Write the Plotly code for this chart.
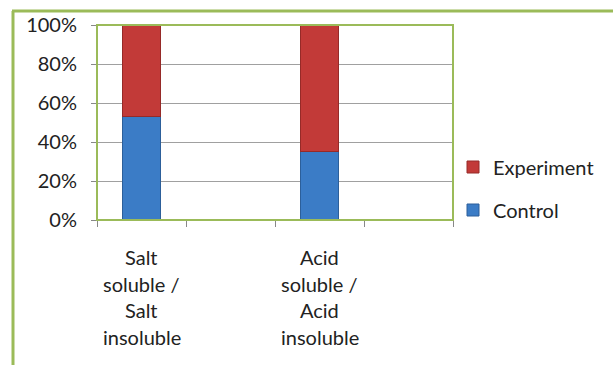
import plotly.graph_objects as go

# Category slots on the x axis (two empty slots between/after the data)
slot_positions = [0, 2]
category_lines = [
    ["Salt", "soluble /", "Salt", "insoluble"],
    ["Acid", "soluble /", "Acid", "insoluble"],
]
control = [53, 35]
experiment = [47, 65]
y_ticks = [0, 20, 40, 60, 80, 100]
y_tick_text = ["0%", "20%", "40%", "60%", "80%", "100%"]

FONT = "Lato"
FS = 20
GREEN = "#9BBB59"
W, H = 613, 365
L, R, T, B = 97, 160, 25, 145
PW, PH = W - L - R, H - T - B


def px_x(px):
    return (px - L) / PW


def px_y(py):
    return (H - B - py) / PH


fig = go.Figure()
fig.add_trace(go.Bar(
    x=slot_positions, y=control, name="Control", width=0.42,
    marker=dict(color="#3B7CC6", line=dict(color="#2C5F9A", width=1)),
    legendgroup="c", legendrank=2,
))
fig.add_trace(go.Bar(
    x=slot_positions, y=experiment, name="Experiment", width=0.42,
    marker=dict(color="#C23A38", line=dict(color="#962A28", width=1)),
    legendgroup="e", legendrank=1,
))

# multi-line category labels under each bar
annotations = []
for pos, lines in zip(slot_positions, category_lines):
    for i, line in enumerate(lines):
        annotations.append(dict(
            x=pos, xref="x", y=px_y(257 + 26.5 * i), yref="paper",
            text=line, showarrow=False, xanchor="center", yanchor="middle",
            font=dict(family=FONT, size=FS, color="#222"),
        ))

shapes = [
    # chart-area border (left and top edges)
    dict(type="line", xref="paper", yref="paper",
         x0=px_x(13), x1=px_x(13), y0=px_y(380), y1=px_y(11),
         line=dict(color=GREEN, width=3)),
    dict(type="line", xref="paper", yref="paper",
         x0=px_x(12), x1=px_x(630), y0=px_y(11), y1=px_y(11),
         line=dict(color=GREEN, width=3)),
    # plot-area frame
    dict(type="rect", xref="paper", yref="paper", x0=0, x1=1, y0=0, y1=1,
         line=dict(color=GREEN, width=2), layer="above"),
]

fig.update_layout(
    width=W, height=H, barmode="stack",
    margin=dict(l=L, r=R, t=T, b=B, pad=0),
    paper_bgcolor="white", plot_bgcolor="white",
    font=dict(family=FONT, size=FS, color="#222"),
    xaxis=dict(
        range=[-0.5, 3.5], tickvals=slot_positions, ticktext=["", ""],
        ticks="", showgrid=False, zeroline=False, showline=False,
        minor=dict(tickvals=[-0.5, 0.5, 1.5, 2.5, 3.5], ticks="outside",
                   ticklen=6, tickcolor="#888", showgrid=False),
        fixedrange=True,
    ),
    yaxis=dict(
        range=[0, 100], tickvals=y_ticks, ticktext=y_tick_text,
        ticks="outside", ticklen=5, tickcolor="#888",
        showgrid=True, gridcolor="#A0A0A0", gridwidth=1,
        zeroline=False, showline=False, ticklabelstandoff=10,
        fixedrange=True,
    ),
    legend=dict(
        x=1.0, xanchor="left", y=px_y(188.5), yanchor="middle",
        traceorder="grouped", tracegroupgap=14,
        font=dict(family=FONT, size=FS, color="#222"),
        bgcolor="rgba(0,0,0,0)",
    ),
    annotations=annotations,
    shapes=shapes,
)

fig.write_html("out.html")
